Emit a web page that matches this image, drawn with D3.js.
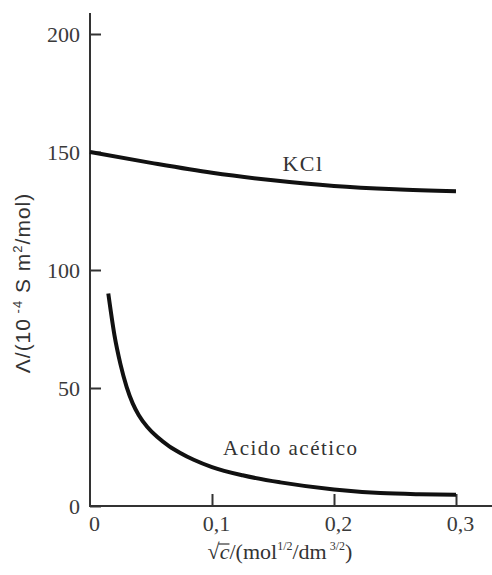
<!DOCTYPE html>
<html>
<head>
<meta charset="utf-8">
<title>Conductividad molar</title>
<script src="https://d3js.org/d3.v7.min.js"></script>
<style>
    body {
        margin: 0;
        background: #fff;
    }
    .tickLabel text {
        font-family: 'Liberation Serif', serif;
        font-size: 22px;
        fill: #3a3a3a;
    }
    .curve {
        fill: none;
        stroke: #111;
        stroke-width: 4px;
        stroke-linejoin: round;
        stroke-linecap: butt;
    }
    .axisLine {
        stroke: #333;
        stroke-width: 2px;
    }
</style>
</head>
<body>
<svg id="chart" width="492" height="575"></svg>
<script>
    // values
    const xTicks = [0, 0.1, 0.2, 0.3];
    const xTickLabels = ["0", "0,1", "0,2", "0,3"];
    const yTicks = [0, 50, 100, 150, 200];

    const kclX = [0, 0.05, 0.1, 0.15, 0.2, 0.25, 0.3];
    const kclY = [150, 145.4, 141.2, 138, 135.6, 134.2, 133.4];

    const acetX = [0.015, 0.02, 0.025, 0.03, 0.035, 0.04, 0.047, 0.055, 0.065, 0.074, 0.085, 0.1, 0.125, 0.156, 0.2, 0.238, 0.27, 0.3];
    const acetY = [90, 72.5, 60, 50.5, 43.5, 38.5, 33.5, 29.3, 25.3, 22.5, 19.6, 16.5, 13, 10, 7, 5.5, 5, 4.8];

    var svg = d3.select("#chart");

    const x = d3.scaleLinear().domain([0, 0.3]).range([90, 456]);
    const y = d3.scaleLinear().domain([0, 200]).range([506, 34]);

    // axis lines (longer than the tick range)
    svg.append("line").attr("class", "axisLine")
        .attr("x1", x(0)).attr("x2", x(0)).attr("y1", 13).attr("y2", y(0) + 1);
    svg.append("line").attr("class", "axisLine")
        .attr("x1", x(0) - 1).attr("x2", 492).attr("y1", y(0)).attr("y2", y(0));

    // y axis: ticks point inwards, labels on the left
    var yAxis = svg.append("g")
        .attr("class", "tickLabel")
        .attr("transform", "translate(" + x(0) + ",0)")
        .call(d3.axisLeft(y).tickValues(yTicks).tickSizeInner(-11).tickSizeOuter(0).tickPadding(10));
    yAxis.select(".domain").remove();
    yAxis.selectAll(".tick line").attr("stroke", "#333").attr("stroke-width", 2);

    // x axis: ticks point upwards
    var xAxis = svg.append("g")
        .attr("class", "tickLabel")
        .attr("transform", "translate(0," + y(0) + ")")
        .call(d3.axisBottom(x).tickValues(xTicks).tickSizeInner(-12).tickSizeOuter(0).tickPadding(9)
            .tickFormat((d, i) => xTickLabels[i]));
    xAxis.select(".domain").remove();
    xAxis.selectAll(".tick line").attr("stroke", "#333").attr("stroke-width", 2);
    xAxis.selectAll(".tick").filter(d => d === 0).select("line").remove();
    xAxis.selectAll(".tick text").attr("x", 4);

    // curves
    var line = d3.line()
        .x(d => x(d[0]))
        .y(d => y(d[1]))
        .curve(d3.curveMonotoneX);

    svg.append("path")
        .datum(kclX.map((v, i) => [v, kclY[i]]))
        .attr("class", "curve")
        .attr("d", line);

    svg.append("path")
        .datum(acetX.map((v, i) => [v, acetY[i]]))
        .attr("class", "curve")
        .attr("d", line);

    // curve labels
    svg.append("text")
        .attr("x", x(0.1746))
        .attr("y", y(142))
        .attr("text-anchor", "middle")
        .style("font-family", "'Liberation Serif', serif")
        .style("font-size", "22px")
        .style("letter-spacing", "1.5px")
        .style("fill", "#333")
        .text("KCl");

    svg.append("text")
        .attr("x", x(0.109))
        .attr("y", y(21.6))
        .style("font-family", "'Liberation Serif', serif")
        .style("font-size", "21px")
        .style("letter-spacing", "1.5px")
        .style("fill", "#333")
        .text("Acido acético");

    // x axis title
    var xTitle = svg.append("text")
        .attr("x", 280)
        .attr("y", 559)
        .attr("text-anchor", "middle")
        .style("font-family", "'Liberation Serif', serif")
        .style("font-size", "22px")
        .style("fill", "#333");
    xTitle.append("tspan").text("√");
    xTitle.append("tspan").style("font-style", "italic").text("c");
    xTitle.append("tspan").text("/(mol");
    xTitle.append("tspan").attr("dy", -9).style("font-size", "12px").text("1/2");
    xTitle.append("tspan").attr("dy", 9).text("/dm");
    xTitle.append("tspan").attr("dy", -9).style("font-size", "12px").text(" 3/2");
    xTitle.append("tspan").attr("dy", 9).text(")");

    // bar of the square root over c
    var cBox = xTitle.node().getExtentOfChar(1);
    svg.append("line")
        .attr("x1", cBox.x - 1).attr("x2", cBox.x + cBox.width)
        .attr("y1", 559 - 15).attr("y2", 559 - 15)
        .attr("stroke", "#333").attr("stroke-width", 1.2);

    // y axis title
    var yTitle = svg.append("text")
        .attr("transform", "translate(30,283) rotate(-90)")
        .attr("text-anchor", "middle")
        .style("font-family", "'Liberation Sans', sans-serif")
        .style("font-size", "21px")
        .style("letter-spacing", "1px")
        .style("fill", "#333");
    yTitle.append("tspan").text("Λ/(10");
    yTitle.append("tspan").attr("dy", -8).style("font-size", "13px").text(" -4");
    yTitle.append("tspan").attr("dy", 8).text(" S m");
    yTitle.append("tspan").attr("dy", -8).style("font-size", "13px").text("2");
    yTitle.append("tspan").attr("dy", 8).text("/mol)");
</script>
</body>
</html>
